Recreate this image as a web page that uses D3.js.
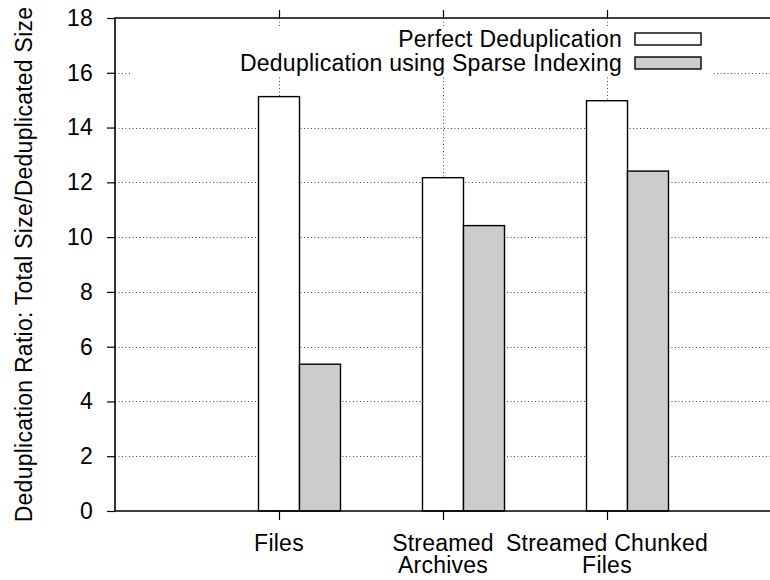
<!DOCTYPE html>
<html>
<head>
<meta charset="utf-8">
<script src="https://cdn.jsdelivr.net/npm/d3@7"></script>
<style>
  html, body { margin: 0; padding: 0; background: #fff; }
  svg { display: block; font-family: "Liberation Sans", Arial, Helvetica, sans-serif; }
  svg text { letter-spacing: 0.25px; }
</style>
</head>
<body>
<svg id="chart" width="770" height="580"></svg>
<script>
// Deduplication ratio per workload
const categories = [["Files"], ["Streamed", "Archives"], ["Streamed Chunked", "Files"]];
const seriesNames = ["Perfect Deduplication", "Deduplication using Sparse Indexing"];
const perfect = [15.13, 12.17, 14.98];
const sparse = [5.36, 10.42, 12.41];
const yTicks = [0, 2, 4, 6, 8, 10, 12, 14, 16, 18];
const yLabel = "Deduplication Ratio: Total Size/Deduplicated Size";

(function () {
  const fills = ["#ffffff", "#cccccc"];
  const series = [perfect, sparse];

  const svg = d3.select("#chart");
  const pL = 115, pR = 771, pT = 18, pB = 511;
  const fontSize = 23;

  const x = d3.scaleLinear().domain([0, 4]).range([pL, pR]);
  const y = d3.scaleLinear().domain([0, 18]).range([pB, pT]);
  const barW = 0.25;
  const catPos = categories.map((c, i) => i + 1);

  // dotted grid
  const grid = svg.append("g").attr("stroke", "#444").attr("stroke-width", 1)
    .attr("stroke-dasharray", "1,2.5").attr("fill", "none");
  yTicks.slice(1, -1).forEach(t => {
    grid.append("line").attr("x1", pL).attr("x2", pR)
      .attr("y1", Math.round(y(t)) + 0.5).attr("y2", Math.round(y(t)) + 0.5);
  });
  catPos.forEach(p => {
    grid.append("line").attr("x1", Math.round(x(p)) + 0.5).attr("x2", Math.round(x(p)) + 0.5)
      .attr("y1", pT).attr("y2", pB);
  });

  // opaque key background
  svg.append("rect").attr("x", 130).attr("y", 28).attr("width", 582).attr("height", 47).attr("fill", "#fff");

  // bars
  series.forEach((vals, s) => {
    svg.append("g").selectAll("rect").data(vals).join("rect")
      .attr("x", (d, i) => x(catPos[i] - barW / 2 + s * barW))
      .attr("width", x(barW) - x(0))
      .attr("y", d => y(d))
      .attr("height", d => y(0) - y(d))
      .attr("fill", fills[s])
      .attr("stroke", "#000")
      .attr("stroke-width", 1.4);
  });

  // axes
  const yAxis = d3.axisLeft(y).tickValues(yTicks).tickSize(8).tickPadding(14).tickFormat(d3.format("d"));
  svg.append("g").attr("transform", `translate(${pL},0)`).call(yAxis)
    .call(g => g.select(".domain").remove())
    .call(g => g.selectAll(".tick line").attr("stroke-width", 1.2))
    .call(g => g.selectAll("text").attr("font-size", fontSize).attr("fill", "#000"))
    .attr("font-family", null).attr("font-size", null);

  const xAxis = d3.axisBottom(x).tickValues(catPos).tickSize(9).tickFormat("");
  svg.append("g").attr("transform", `translate(0,${pB})`).call(xAxis)
    .call(g => g.select(".domain").remove())
    .call(g => g.selectAll(".tick line").attr("stroke-width", 1.2));
  const xTop = d3.axisTop(x).tickValues(catPos).tickSize(8).tickFormat("");
  svg.append("g").attr("transform", `translate(0,${pT})`).call(xTop)
    .call(g => g.select(".domain").remove())
    .call(g => g.selectAll(".tick line").attr("stroke-width", 1.2));

  // frame
  svg.append("path")
    .attr("d", `M${pR},${pT}H${pL}V${pB}H${pR}`)
    .attr("fill", "none").attr("stroke", "#000").attr("stroke-width", 1.6);

  // category labels, one text per line
  categories.forEach((lines, i) => {
    lines.forEach((ln, j) => {
      svg.append("text").attr("text-anchor", "middle").attr("font-size", fontSize)
        .attr("x", x(catPos[i])).attr("y", 551 + j * 22).text(ln);
    });
  });

  // y label
  svg.append("text").attr("transform", `translate(32,${(pT + pB) / 2}) rotate(-90)`)
    .attr("text-anchor", "middle").attr("font-size", fontSize).text(yLabel);

  // key
  seriesNames.forEach((name, s) => {
    const cy = 39 + s * 24;
    svg.append("text").attr("x", 622).attr("y", cy + 8).attr("text-anchor", "end")
      .attr("font-size", fontSize).text(name);
    svg.append("rect").attr("x", 635).attr("y", cy - 6).attr("width", 66).attr("height", 12)
      .attr("fill", fills[s]).attr("stroke", "#000").attr("stroke-width", 1.4);
  });
})();
</script>
</body>
</html>
